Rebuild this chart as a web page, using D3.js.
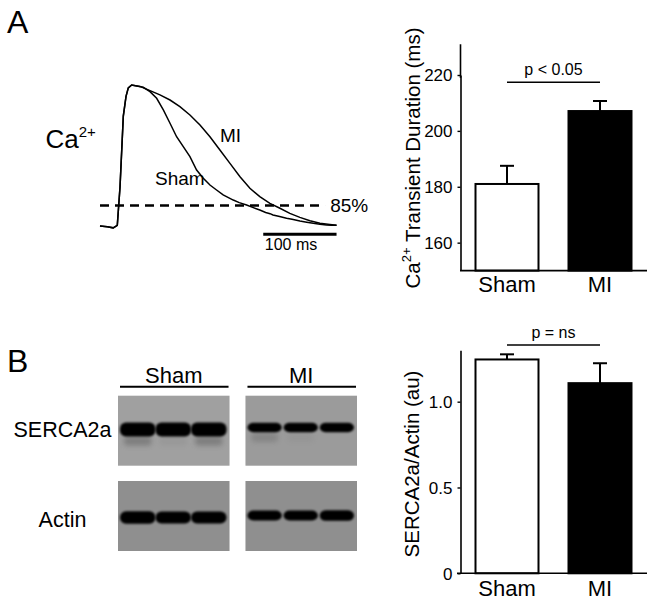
<!DOCTYPE html>
<html><head><meta charset="utf-8">
<script src="https://cdn.jsdelivr.net/npm/d3@7"></script>
<style>
body{margin:0;background:#fff;}
svg{display:block;font-family:"Liberation Sans",Arial,sans-serif;}
</style></head>
<body>
<svg id="fig" width="654" height="603"></svg>
<script>
// ---------- Data ----------
// Panel A trace: time (ms), normalized Ca2+ amplitude (0 = diastolic, 1 = peak)
const shamTrace = [
  [0,0.005],[10,0],[18,-0.008],[23.6,0.01],[27.3,0.28],[31.8,0.78],[35.5,0.92],[38.6,0.98],[43.2,1.0],
  [50,0.993],[59,0.984],[68.2,0.953],[77.3,0.906],[86.4,0.824],[95.5,0.73],[104.5,0.635],[113.6,0.565],
  [122.7,0.494],[131.8,0.40],[140.9,0.342],[150,0.294],[159,0.259],[168,0.224],[181.8,0.188],[190,0.17],
  [200,0.153],[210,0.133],[218,0.118],[226,0.1],[232,0.092],[236,0.083],[245,0.072],[254.5,0.059],
  [262,0.052],[272.7,0.04],[282,0.032],[291,0.024],[300,0.018],[309,0.012],[316,0.01],[322.7,0.01]
];
const miTrace = [
  [0,0.005],[10,0],[18,-0.008],[23.6,0.01],[27.3,0.28],[31.8,0.78],[35.5,0.92],[38.6,0.98],[43.2,1.0],
  [54.5,0.99],[68.2,0.96],[81.8,0.93],[95.5,0.894],[109,0.847],[122.7,0.788],[136.4,0.718],[150,0.635],
  [163.6,0.541],[177.3,0.447],[191,0.353],[204.5,0.271],[218,0.212],[231.8,0.165],[245.5,0.13],
  [259,0.094],[272.7,0.066],[286.4,0.042],[300,0.024],[313.6,0.015],[322.7,0.01]
];
const thresholdLevel = 0.15;      // 85% decay
const thresholdLabel = "85%";
const scaleBarMs = 100;
const scaleBarLabel = "100 ms";

// Panel A bar chart
const groups = ["Sham", "MI"];
const durationMean = [181, 207.1];
const durationSEM = [6.5, 3.6];
const durationTicks = [160, 180, 200, 220];
const durationP = "p < 0.05";

// Panel B blots (relative band intensity per lane)
const blotGroups = ["Sham", "MI"];
const blotLanes = [1, 2, 3];
const sercaBand = [[1.0, 1.0, 1.0], [0.85, 0.85, 0.85]];
const sercaLowerBand = [[0.45, 0.1, 0.45], [0.3, 0.08, 0.0]];
const actinBand = [[1.0, 0.95, 0.95], [0.9, 0.9, 0.95]];

// Panel B bar chart
const sercaMean = [1.246, 1.108];
const sercaSEM = [0.03, 0.116];
const sercaTicks = [0, 0.5, 1.0];
const sercaP = "p = ns";

// ---------- Drawing ----------
const svg = d3.select("#fig");
const defs = svg.append("defs");
defs.append("filter").attr("id","blur").attr("x","-20%").attr("y","-60%").attr("width","140%").attr("height","220%")
  .append("feGaussianBlur").attr("stdDeviation", 1.1);
defs.append("filter").attr("id","blur2").attr("x","-20%").attr("y","-80%").attr("width","140%").attr("height","260%")
  .append("feGaussianBlur").attr("stdDeviation", 2.5);

// Panel letters
svg.append("text").attr("x",7).attr("y",33).attr("font-size",32).text("A");
svg.append("text").attr("x",7).attr("y",372).attr("font-size",32).text("B");

// ---- Trace ----
const tx = d3.scaleLinear().domain([0, 100]).range([100, 173.3]);
const ty = d3.scaleLinear().domain([0, 1]).range([226.7, 85]);
const line = d3.line().x(d => tx(d[0])).y(d => ty(d[1]));
const gT = svg.append("g");
gT.append("path").attr("d", line(shamTrace)).attr("fill","none").attr("stroke","#000").attr("stroke-width",1.5);
gT.append("path").attr("d", line(miTrace)).attr("fill","none").attr("stroke","#000").attr("stroke-width",1.5);
gT.append("line").attr("x1", tx(0)).attr("x2", tx(307)).attr("y1", ty(thresholdLevel)).attr("y2", ty(thresholdLevel))
  .attr("stroke","#000").attr("stroke-width",2.6).attr("stroke-dasharray","9,6");
gT.append("text").attr("x", tx(314)).attr("y", ty(thresholdLevel)+7).attr("font-size",19).text(thresholdLabel);
const sbEnd = 322.7;
gT.append("line").attr("x1", tx(sbEnd - scaleBarMs)).attr("x2", tx(sbEnd)).attr("y1",234.3).attr("y2",234.3)
  .attr("stroke","#000").attr("stroke-width",3);
gT.append("text").attr("x", tx(sbEnd - scaleBarMs)+1.5).attr("y",250).attr("font-size",16).text(scaleBarLabel);
gT.append("text").attr("x",220).attr("y",141.5).attr("font-size",19).text("MI");
gT.append("text").attr("x",155).attr("y",185).attr("font-size",19).text("Sham");
const ca = gT.append("text").attr("x",45.5).attr("y",148).attr("font-size",26);
ca.append("tspan").text("Ca");
ca.append("tspan").attr("font-size",15).attr("dy",-11).text("2+");

// ---- Bar chart helper ----
function barChart(opts) {
  const g = svg.append("g");
  const x = d3.scaleBand().domain(groups).range([460, 647]).paddingInner(0.3226).paddingOuter(0.1667);
  const y = opts.y;
  g.selectAll("rect.bar").data(groups).join("rect")
    .attr("x", d => x(d)).attr("width", x.bandwidth())
    .attr("y", (d,i) => y(opts.mean[i])).attr("height", (d,i) => y(opts.base) - y(opts.mean[i]))
    .attr("fill", (d,i) => i === 0 ? "#fff" : "#000").attr("stroke","#000").attr("stroke-width",2);
  g.selectAll("line.err").data(groups).join("line")
    .attr("x1", d => x(d) + x.bandwidth()/2).attr("x2", d => x(d) + x.bandwidth()/2)
    .attr("y1", (d,i) => y(opts.mean[i])).attr("y2", (d,i) => y(opts.mean[i] + opts.sem[i]))
    .attr("stroke","#000").attr("stroke-width",2);
  g.selectAll("line.cap").data(groups).join("line")
    .attr("x1", d => x(d) + x.bandwidth()/2 - 7).attr("x2", d => x(d) + x.bandwidth()/2 + 7)
    .attr("y1", (d,i) => y(opts.mean[i] + opts.sem[i])).attr("y2", (d,i) => y(opts.mean[i] + opts.sem[i]))
    .attr("stroke","#000").attr("stroke-width",2);
  const ya = g.append("g").attr("transform","translate(460.5,0)")
    .call(d3.axisLeft(y).tickValues(opts.ticks).tickSize(3).tickSizeOuter(0).tickPadding(5).tickFormat(opts.fmt));
  ya.select(".domain").attr("stroke-width",1.6);
  ya.selectAll(".tick line").attr("stroke-width",1.4);
  ya.selectAll("text").attr("font-size",17).attr("font-family","Liberation Sans, Arial, sans-serif").attr("fill","#000").attr("dy","0.35em");
  const xa = g.append("g").attr("transform",`translate(0,${y(opts.base)})`)
    .call(d3.axisBottom(x).tickSize(0).tickPadding(opts.xpad));
  xa.select(".domain").attr("d", `M${opts.xStart},0H647`).attr("stroke-width",1.6);
  xa.selectAll("text").attr("font-size",22).attr("font-family","Liberation Sans, Arial, sans-serif").attr("fill","#000");
  const c0 = x(groups[0]) + x.bandwidth()/2, c1 = x(groups[1]) + x.bandwidth()/2;
  g.append("line").attr("x1",c0).attr("x2",c1).attr("y1",opts.pY).attr("y2",opts.pY).attr("stroke","#000").attr("stroke-width",1.6);
  g.append("text").attr("x",(c0+c1)/2).attr("y",opts.pY-7).attr("text-anchor","middle").attr("font-size",16).text(opts.pText);
  const lab = g.append("text").attr("transform",`translate(${opts.labX},${opts.labY}) rotate(-90)`)
    .attr("text-anchor","middle").attr("font-size",20.5);
  opts.label(lab);
  return g;
}

const yA = d3.scaleLinear().domain([150, 220]).range([270.6, 75]);
barChart({
  y: yA, base: 150, mean: durationMean, sem: durationSEM, ticks: durationTicks,
  fmt: d3.format("d"), xpad: 6, xStart: 460, pY: 82.3, pText: durationP,
  labX: 420, labY: 158,
  label: t => {
    t.append("tspan").text("Ca");
    t.append("tspan").attr("font-size",13).attr("dy",-9).text("2+");
    t.append("tspan").attr("dy",9).text(" Transient Duration (ms)");
  }
});
svg.append("line").attr("x1",460.5).attr("x2",460.5).attr("y1",yA(231)).attr("y2",yA(219)).attr("stroke","#000").attr("stroke-width",1.6);

const yB = d3.scaleLinear().domain([0, 1.3]).range([573.3, 350.2]);
barChart({
  y: yB, base: 0, mean: sercaMean, sem: sercaSEM, ticks: sercaTicks,
  fmt: d => d === 0 ? "0" : d3.format(".1f")(d), xpad: 7.5, xStart: 457, pY: 345, pText: sercaP,
  labX: 419, labY: 464,
  label: t => t.text("SERCA2a/Actin (au)")
});

// ---- Western blots ----
const gB = svg.append("g");
const boxX = d3.scaleBand().domain(blotGroups).range([118, 357]).paddingInner(0.125);
const blotRows = [
  {name:"SERCA2a", y0:395.7, y1:465.7, fill:["#a0a0a0","#9b9b9b"], band:sercaBand, lower:sercaLowerBand, cy:[429.5,427.5], h:[14,11], labY:436.5},
  {name:"Actin", y0:481, y1:551, fill:["#8f8f8f","#8f8f8f"], band:actinBand, lower:null, cy:[517.5,515.5], h:[12.5,11], labY:526.5}
];
blotRows.forEach(row => {
  blotGroups.forEach((grp, gi) => {
    const x0 = boxX(grp), w = boxX.bandwidth();
    gB.append("rect").attr("x",x0).attr("y",row.y0).attr("width",w).attr("height",row.y1-row.y0).attr("fill",row.fill[gi]);
    const lx = d3.scaleBand().domain(blotLanes).range([x0+2, x0+w-3]).paddingInner(gi===0?0.0:0.05);
    blotLanes.forEach((ln, li) => {
      if (row.lower) {
        const v = row.lower[gi][li];
        if (v > 0.05) {
          gB.append("rect").attr("x", lx(ln)+4).attr("width", lx.bandwidth()-8)
            .attr("y", row.cy[gi]+row.h[gi]/2).attr("height", 9)
            .attr("rx",3).attr("fill","#555").attr("opacity", v).attr("filter","url(#blur2)");
        }
      }
      const s = row.band[gi][li];
      const h = row.h[gi]*s;
      gB.append("rect").attr("x", lx(ln)).attr("width", lx.bandwidth())
        .attr("y", row.cy[gi]-h/2).attr("height", h)
        .attr("rx",6).attr("fill","#050505").attr("filter","url(#blur)");
    });
  });
  gB.append("text").attr("x", 62.5).attr("y", row.labY).attr("text-anchor","middle").attr("font-size",21.5).text(row.name);
});
blotGroups.forEach(grp => {
  const x0 = boxX(grp), w = boxX.bandwidth();
  gB.append("line").attr("x1",x0+2).attr("x2",x0+w-1).attr("y1",386.7).attr("y2",386.7).attr("stroke","#000").attr("stroke-width",2);
  gB.append("text").attr("x",x0+w/2).attr("y",382.5).attr("text-anchor","middle").attr("font-size",22).text(grp);
});
</script>
</body></html>
